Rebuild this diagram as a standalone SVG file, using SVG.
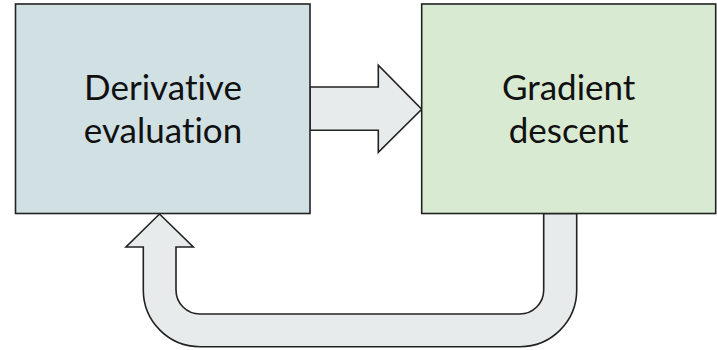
<svg xmlns="http://www.w3.org/2000/svg" width="717" height="350" viewBox="0 0 717 350">
<style>
.box{stroke:#222;stroke-width:1.6}
.arrow{fill:#e8ebec;stroke:#222;stroke-width:1.6;stroke-linejoin:miter}
.lbl{font-family:Lato,"Open Sans","Liberation Sans",sans-serif;font-size:35px;fill:#111;text-anchor:middle;font-variant-ligatures:none;font-feature-settings:"liga" 0}
</style>
<rect width="717" height="350" fill="#fff"/>
<g id="connectors">
<path class="arrow" d="M 310 87 L 378.3 87 L 378.3 65.3 L 421.7 109.3 L 378.3 152.3 L 378.3 130.3 L 310 130.3 Z"/>
<path class="arrow" d="M 543.7 213.5 L 543.7 290 A 24 24 0 0 1 519.7 314 L 200 314 A 24 24 0 0 1 176 290 L 176 247 L 193.3 247 L 159.5 214 L 126 247 L 143.3 247 L 143.3 290 A 56.7 56.7 0 0 0 200 346.7 L 520 346.7 A 56.7 56.7 0 0 0 576.7 290 L 576.7 213.5 Z"/>
</g>
<g id="node-derivative">
<rect class="box" x="15.5" y="4" width="294.5" height="209.5" fill="#d0e0e3"/>
<text class="lbl" x="163" y="100">Derivative</text>
<text class="lbl" x="163" y="143">evaluation</text>
</g>
<g id="node-gradient">
<rect class="box" x="421.7" y="4" width="294" height="209.5" fill="#d9ead3"/>
<text class="lbl" x="568.7" y="100">Gradient</text>
<text class="lbl" x="568.7" y="143">descent</text>
</g>
</svg>
